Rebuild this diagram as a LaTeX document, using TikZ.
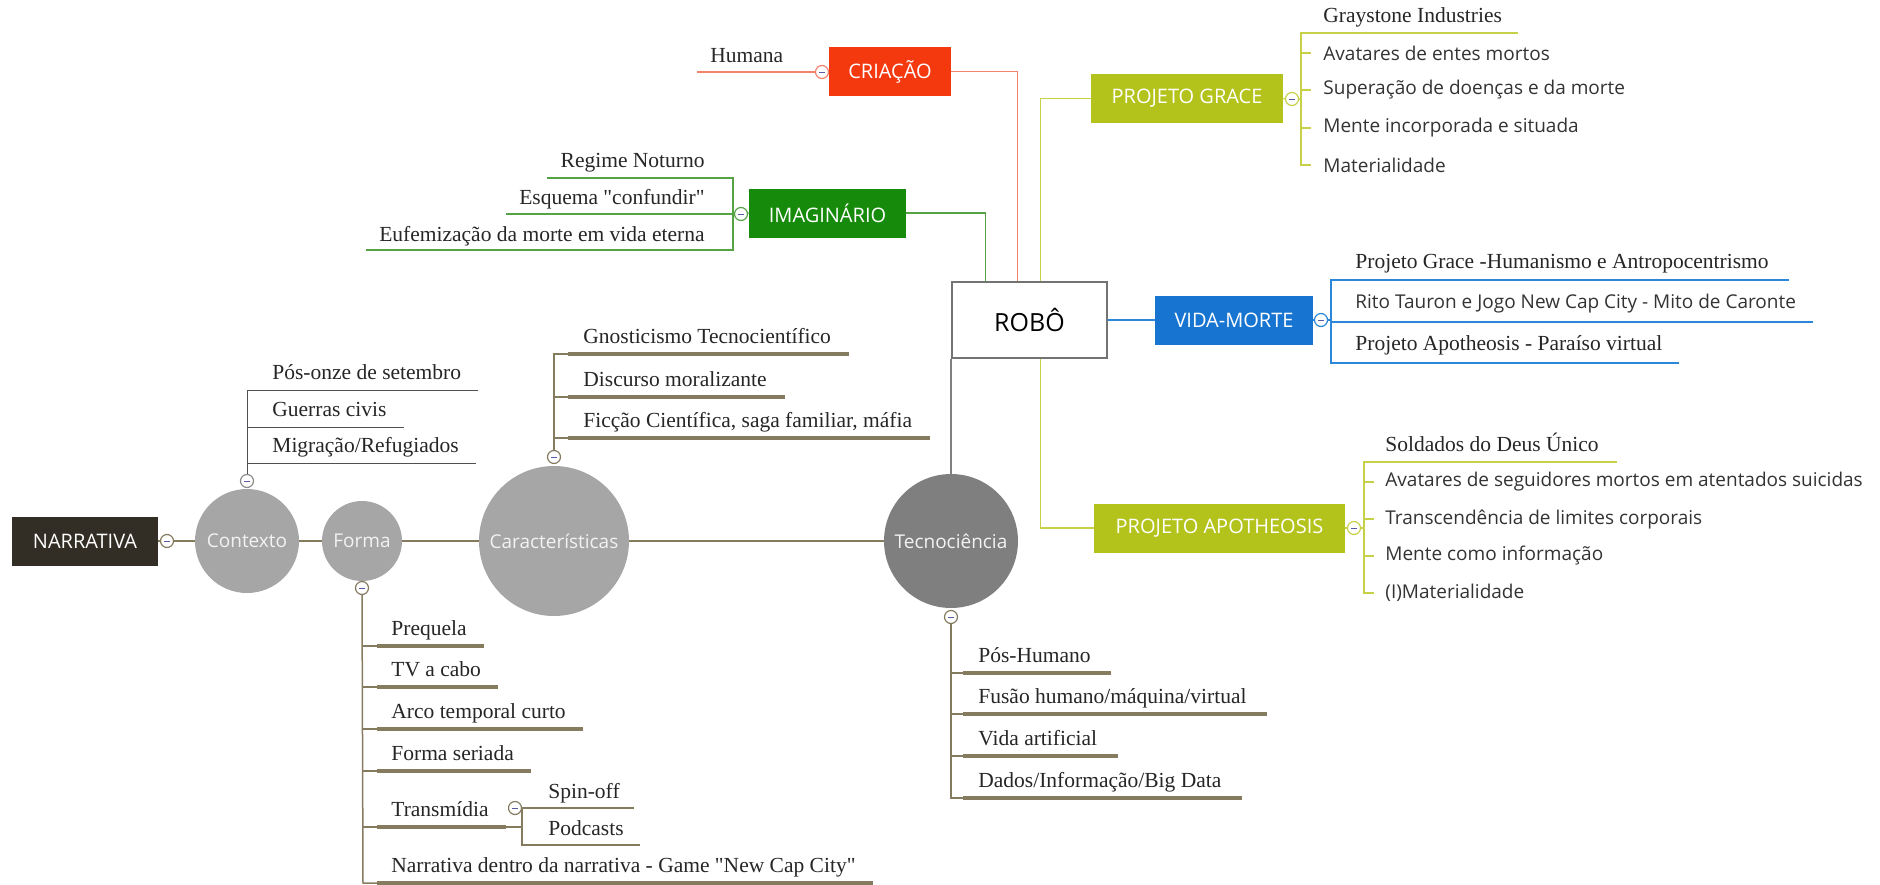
\documentclass[tikz,border=0pt]{standalone}
\usepackage{fontspec}
\setmainfont{Liberation Serif}
\setsansfont{Open Sans}
\usepackage{tikz}
\usetikzlibrary{positioning, backgrounds, calc}

\definecolor{crRed}{HTML}{F4390F}
\definecolor{crLine}{HTML}{F3826C}
\definecolor{imGreen}{HTML}{168A0A}
\definecolor{imLine}{HTML}{55A345}
\definecolor{pjYellow}{HTML}{B4C31B}
\definecolor{pjLine}{HTML}{C6D148}
\definecolor{vmBlue}{HTML}{1775D1}
\definecolor{vmLine}{HTML}{2C87DA}
\definecolor{narDark}{HTML}{332E25}
\definecolor{ballGray}{HTML}{A6A6A6}
\definecolor{tecGray}{HTML}{7F7F7F}
\definecolor{oliveLine}{HTML}{857C60}
\definecolor{ctxLine}{HTML}{505050}

\begin{document}
\begin{tikzpicture}[x=0.5pt, y=-0.5pt,
    topic/.style={minimum height=24.5pt, inner sep=0pt, text=white, font=\sffamily\fontsize{10}{12}\selectfont},
    ball/.style={circle, fill=ballGray, inner sep=0pt, text=white!90!gray, font=\sffamily\fontsize{9.5}{11}\selectfont},
    leaf/.style={anchor=base west, inner sep=0pt, text=black!85, font=\fontsize{10.75}{13}\selectfont},
    leafr/.style={leaf, anchor=base east},
    sleaf/.style={anchor=west, inner sep=0pt, text=black!80, font=\sffamily\fontsize{9.5}{11}\selectfont},
    sbase/.style={leaf, text=black!80, font=\sffamily\fontsize{9.5}{11}\selectfont},
    fold/.style={circle, draw=#1, fill=white, line width=0.6pt, minimum size=6.5pt, inner sep=0pt,
        path picture={\draw[line width=0.5pt, blue!30!gray]
            ([xshift=-1.5pt]path picture bounding box.center) -- ([xshift=1.5pt]path picture bounding box.center);}},
    crl/.style={crLine, line width=0.75pt},
    iml/.style={imLine, line width=0.75pt},
    pjl/.style={pjLine, line width=0.75pt},
    vml/.style={vmLine, line width=1pt},
    ctl/.style={ctxLine, line width=0.5pt},
    oll/.style={oliveLine, line width=0.75pt},
    bar/.style={oliveLine, line width=2pt},
]
\useasboundingbox (0,0) rectangle (1880,884);

% === Spine: NARRATIVA and its four circles ===
\node[topic, fill=narDark, minimum width=73pt] (narr) at (85,541) {NARRATIVA};
\node[ball, minimum size=52pt] (ctx) at (247,541) {Contexto};
\node[ball, minimum size=40pt] (forma) at (362,541) {Forma};
\node[ball, minimum size=75pt] (carac) at (554,541) {Características};
\node[ball, fill=tecGray, minimum size=67pt] (tec) at (951,541) {Tecnociência};

% === ROBÔ and its branches ===
\node[draw=black!55, fill=white, line width=0.75pt, minimum width=77.5pt, minimum height=38pt, inner sep=0pt,
      font=\sffamily\fontsize{12.5}{15}\selectfont] (robo) at (1029.5,320) {ROBÔ};
\node[topic, fill=crRed, minimum width=61pt] (cria) at (890,71.5) {CRIAÇÃO};
\node[topic, fill=imGreen, minimum width=78.5pt] (imag) at (827.5,213) {IMAGINÁRIO};
\node[topic, fill=pjYellow, minimum width=96pt] (grace) at (1187,98.5) {PROJETO GRACE};
\node[topic, fill=vmBlue, minimum width=79pt] (vida) at (1234,320) {VIDA-MORTE};
\node[topic, fill=pjYellow, minimum width=125.5pt] (apoth) at (1219.5,528) {PROJETO APOTHEOSIS};

% === Fold buttons ===
\node[fold=oliveLine] (fNarr) at (167,541) {};
\node[fold=black!45] (fCtx) at (247,481) {};
\node[fold=oliveLine] (fForma) at (362,588) {};
\node[fold=oliveLine] (fCar) at (554,457) {};
\node[fold=oliveLine] (fTec) at (951,617) {};
\node[fold=oliveLine] (fTrans) at (515,808) {};
\node[fold=crLine] (fCria) at (822,72) {};
\node[fold=imLine] (fImag) at (741,214) {};
\node[fold=pjLine] (fGrace) at (1292,99) {};
\node[fold=vmLine] (fVida) at (1321,320) {};
\node[fold=pjLine] (fApo) at (1354,528) {};

% === Leaves ===
\node[leaf] (hum) at (710,62) {Humana};

\node[leafr] (reg) at (705,167) {Regime Noturno};
\node[leafr] (esq) at (705,204) {Esquema \textquotedbl confundir\textquotedbl};
\node[leafr] (euf) at (705,241) {Eufemização da morte em vida eterna};

\node[leaf] (gray) at (1323,22) {Graystone Industries};
\node[sleaf] (gr1) at (1323,53) {Avatares de entes mortos};
\node[sleaf] (gr2) at (1323,90) {Superação de doenças e da morte};
\node[sleaf] (gr3) at (1323,128) {Mente incorporada e situada};
\node[sleaf] (gr4) at (1323,165) {Materialidade};

\node[leaf] (vm1) at (1355,268) {Projeto Grace -Humanismo e Antropocentrismo};
\node[sbase] (vm2) at (1355,308) {Rito Tauron e Jogo New Cap City - Mito de Caronte};
\node[leaf] (vm3) at (1355,350) {Projeto Apotheosis - Paraíso virtual};

\node[leaf] (sold) at (1385,451) {Soldados do Deus Único};
\node[sleaf] (ap1) at (1385,482) {Avatares de seguidores mortos em atentados suicidas};
\node[sleaf] (ap2) at (1385,519) {Transcendência de limites corporais};
\node[sleaf] (ap3) at (1385,556) {Mente como informação};
\node[sleaf] (ap4) at (1385,593) {(I)Materialidade};

\node[leaf] (ctx1) at (272,379) {Pós-onze de setembro};
\node[leaf] (ctx2) at (272,416) {Guerras civis};
\node[leaf] (ctx3) at (272,452) {Migração/Refugiados};

\node[leaf] (car1) at (583,343) {Gnosticismo Tecnocientífico};
\node[leaf] (car2) at (583,386) {Discurso moralizante};
\node[leaf] (car3) at (583,427) {Ficção Científica, saga familiar, máfia};

\node[leaf] (tc1) at (978,662) {Pós-Humano};
\node[leaf] (tc2) at (978,703) {Fusão humano/máquina/virtual};
\node[leaf] (tc3) at (978,745) {Vida artificial};
\node[leaf] (tc4) at (978,787) {Dados/Informação/Big Data};

\node[leaf] (fo1) at (391,635) {Prequela};
\node[leaf] (fo2) at (391,676) {TV a cabo};
\node[leaf] (fo3) at (391,718) {Arco temporal curto};
\node[leaf] (fo4) at (391,760) {Forma seriada};
\node[leaf] (fo5) at (391,816) {Transmídia};
\node[leaf] (fo6) at (391,872) {Narrativa dentro da narrativa - Game \textquotedbl New Cap City\textquotedbl};
\node[leaf] (sp) at (548,798) {Spin-off};
\node[leaf] (pod) at (548,835) {Podcasts};

% === Connectors ===
\begin{scope}[on background layer]
    % spine
    \draw[oliveLine, line width=0.6pt] (narr.east) -- (tec.west);
    \draw[black!50, line width=0.75pt] (tec.north) -- (tec.north |- robo.south);

    % ROBÔ to its topics
    \draw[crl] (cria.east) -| ($(robo.north west)+(66,0)$);
    \draw[iml] (imag.east) -| ($(robo.north west)+(34,0)$);
    \draw[pjl] ($(robo.north west)+(89,0)$) |- (grace.west);
    \draw[pjl] ($(robo.south west)+(89,0)$) |- (apoth.west);
    \draw[vml] (robo.east) -- (vida.west);

    % CRIAÇÃO
    \draw[crl] (cria.west) -- (fCria);
    \draw[crl] (fCria) -- ($(hum.base west)+(-13,10)$);

    % IMAGINÁRIO
    \draw[iml] (imag.west) -- (fImag);
    \draw[iml] (fImag) -- ($(esq.base west)+(-13,10)$);
    \draw[iml] ($(reg.base west)+(-13,11)$) -- ($(reg.base east)+(28,11)$) -- ($(euf.base east)+(28,9)$) -- ($(euf.base west)+(-13,9)$);

    % PROJETO GRACE
    \draw[pjl] (grace.east) -- (fGrace) -- ++(9,0);
    \draw[pjl] ($(gray.base east)+(16,11)$) -- ($(gray.base west)+(-22,11)$) -- ($(gr4.west)+(-22,0)$) -- ++(10,0);
    \draw[pjl] ($(gr1.west)+(-22,0)$) -- ++(10,0);
    \draw[pjl] ($(gr2.west)+(-22,0)$) -- ++(10,0);
    \draw[pjl] ($(gr3.west)+(-22,0)$) -- ++(10,0);

    % VIDA-MORTE
    \draw[vml] (vida.east) -- (fVida) -- ++(10,0);
    \draw[vml] ($(vm1.base east)+(20,12)$) -- ($(vm1.base west)+(-24,12)$) -- ($(vm3.base west)+(-24,13)$) -- ($(vm3.base east)+(16,13)$);
    \draw[vml] ($(vm2.base west)+(-24,14)$) -- ($(vm2.base east)+(17,14)$);

    % PROJETO APOTHEOSIS
    \draw[pjl] (apoth.east) -- (fApo) -- ++(10,0);
    \draw[pjl] ($(sold.base east)+(18,11)$) -- ($(sold.base west)+(-21,11)$) -- ($(ap4.west)+(-21,0)$) -- ++(10,0);
    \draw[pjl] ($(ap1.west)+(-21,0)$) -- ++(10,0);
    \draw[pjl] ($(ap2.west)+(-21,0)$) -- ++(10,0);
    \draw[pjl] ($(ap3.west)+(-21,0)$) -- ++(10,0);

    % Contexto
    \draw[ctl] (fCtx) -- ($(ctx1.base west)+(-25,11)$) -- ($(ctx1.base east)+(17,11)$);
    \draw[ctl] ($(ctx2.base west)+(-25,11)$) -- ($(ctx2.base east)+(17,11)$);
    \draw[ctl] ($(ctx3.base west)+(-25,11)$) -- ($(ctx3.base east)+(17,11)$);

    % Características
    \draw[oll] (fCar) -- ($(car1.base west)+(-29,11)$) -- ($(car1.base west)+(-15,11)$);
    \draw[oll] ($(car2.base west)+(-29,11)$) -- ($(car2.base west)+(-15,11)$);
    \draw[oll] ($(car3.base west)+(-29,11)$) -- ($(car3.base west)+(-15,11)$);
    \draw[bar] ($(car1.base west)+(-15,11)$) -- ($(car1.base east)+(18,11)$);
    \draw[bar] ($(car2.base west)+(-15,11)$) -- ($(car2.base east)+(18,11)$);
    \draw[bar] ($(car3.base west)+(-15,11)$) -- ($(car3.base east)+(18,11)$);

    % Tecnociência
    \draw[oll] (fTec) -- ($(tc4.base west)+(-27,11)$) -- ($(tc4.base west)+(-15,11)$);
    \draw[oll] ($(tc1.base west)+(-27,11)$) -- ($(tc1.base west)+(-15,11)$);
    \draw[oll] ($(tc2.base west)+(-27,11)$) -- ($(tc2.base west)+(-15,11)$);
    \draw[oll] ($(tc3.base west)+(-27,11)$) -- ($(tc3.base west)+(-15,11)$);
    \draw[bar] ($(tc1.base west)+(-15,11)$) -- ($(tc1.base east)+(20,11)$);
    \draw[bar] ($(tc2.base west)+(-15,11)$) -- ($(tc2.base east)+(20,11)$);
    \draw[bar] ($(tc3.base west)+(-15,11)$) -- ($(tc3.base east)+(20,11)$);
    \draw[bar] ($(tc4.base west)+(-15,11)$) -- ($(tc4.base east)+(20,11)$);

    % Forma
    \draw[oll] (fForma) -- ($(fo6.base west)+(-28,11)$) -- ($(fo6.base west)+(-14,11)$);
    \draw[oll] ($(fo1.base west)+(-28,11)$) -- ($(fo1.base west)+(-14,11)$);
    \draw[oll] ($(fo2.base west)+(-28,11)$) -- ($(fo2.base west)+(-14,11)$);
    \draw[oll] ($(fo3.base west)+(-28,11)$) -- ($(fo3.base west)+(-14,11)$);
    \draw[oll] ($(fo4.base west)+(-28,11)$) -- ($(fo4.base west)+(-14,11)$);
    \draw[oll] ($(fo5.base west)+(-28,11)$) -- ($(fo5.base west)+(-14,11)$);
    \draw[bar] ($(fo1.base west)+(-14,11)$) -- ($(fo1.base east)+(17,11)$);
    \draw[bar] ($(fo2.base west)+(-14,11)$) -- ($(fo2.base east)+(17,11)$);
    \draw[bar] ($(fo3.base west)+(-14,11)$) -- ($(fo3.base east)+(17,11)$);
    \draw[bar] ($(fo4.base west)+(-14,11)$) -- ($(fo4.base east)+(17,11)$);
    \draw[bar] ($(fo5.base west)+(-14,11)$) -- ($(fo5.base east)+(17,11)$);
    \draw[bar] ($(fo6.base west)+(-14,11)$) -- ($(fo6.base east)+(17,11)$);

    % Transmídia
    \draw[oll] ($(fo5.base east)+(17,11)$) -| ($(sp.base west)+(-26,10)$) -- ($(sp.base east)+(14,10)$);
    \draw[oll] ($(sp.base west)+(-26,10)$) -- ($(pod.base west)+(-26,10)$) -- ($(pod.base east)+(16,10)$);
\end{scope}

\end{tikzpicture}
\end{document}
